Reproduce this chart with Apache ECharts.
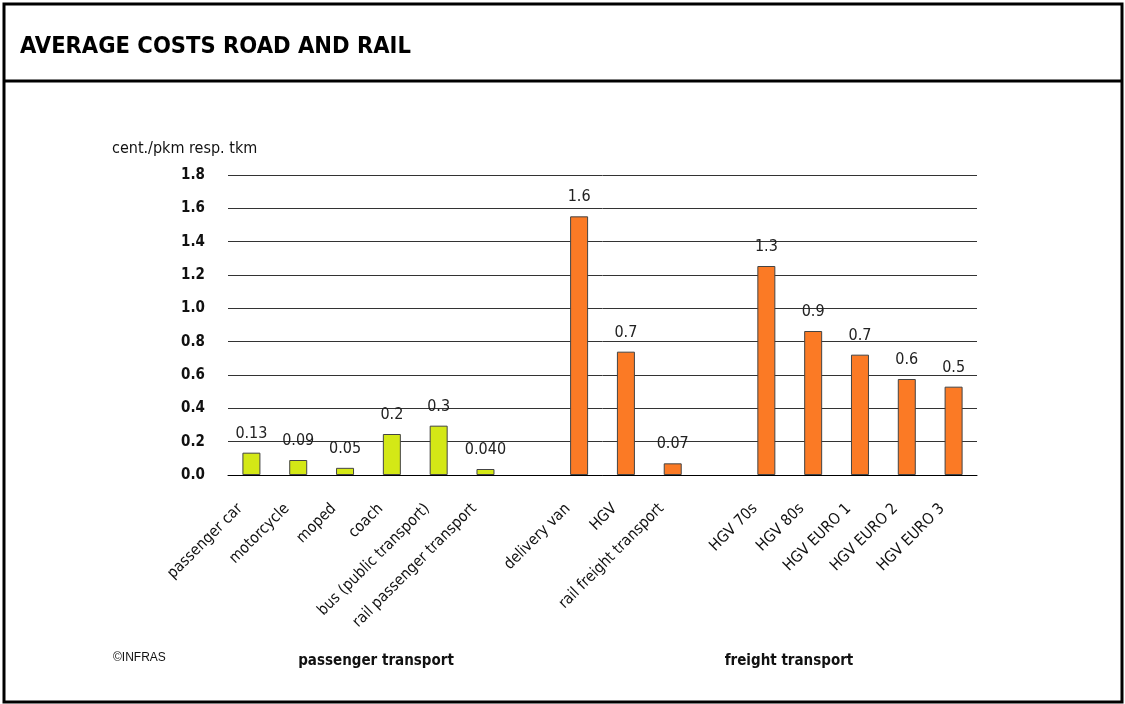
<!DOCTYPE html>
<html>
<head>
<meta charset="utf-8">
<script src="https://cdn.jsdelivr.net/npm/echarts@6/dist/echarts.min.js"></script>
<style>
html,body{margin:0;padding:0;background:#fff;}
#c{width:1125px;height:704px;}
</style>
</head>
<body>
<div id="c"></div>
<script>
const categories = ['passenger car','motorcycle','moped','coach','bus (public transport)','rail passenger transport','',
  'delivery van','HGV','rail freight transport','',
  'HGV 70s','HGV 80s','HGV EURO 1','HGV EURO 2','HGV EURO 3'];
const passengerValues = [0.134, 0.09, 0.043, 0.246, 0.296, 0.036];
const freightValues = [1.552, 0.74, 0.07];
const hgvValues = [1.254, 0.864, 0.722, 0.576, 0.53];
const passengerLabels = ['0.13','0.09','0.05','0.2','0.3','0.040'];
const freightLabels = ['1.6','0.7','0.07'];
const hgvLabels = ['1.3','0.9','0.7','0.6','0.5'];
const yTicks = [0, 0.2, 0.4, 0.6, 0.8, 1.0, 1.2, 1.4, 1.6, 1.8];

const FONT = "'DejaVu Sans Condensed','Liberation Sans Narrow','DejaVu Sans',sans-serif";
const GREEN = '#d4e816';
const ORANGE = '#fb7a25';

const data = [];
const labels = [];
passengerValues.forEach((v,i)=>{data.push({value:v,itemStyle:{color:GREEN}});labels.push(passengerLabels[i]);});
data.push('-'); labels.push('');
freightValues.forEach((v,i)=>{data.push({value:v,itemStyle:{color:ORANGE}});labels.push(freightLabels[i]);});
data.push('-'); labels.push('');
hgvValues.forEach((v,i)=>{data.push({value:v,itemStyle:{color:ORANGE}});labels.push(hgvLabels[i]);});

const chart = echarts.init(document.getElementById('c'), null, {renderer:'canvas'});
chart.setOption({
  animation:false,
  backgroundColor:'#fff',
  grid:{left:228,right:148,top:175,bottom:229,containLabel:false},
  xAxis:{
    type:'category',
    data:categories,
    axisLine:{show:true,lineStyle:{color:'#000',width:1}},
    axisTick:{show:false},
    axisLabel:{rotate:45,margin:20,padding:[0,16,0,0],fontFamily:FONT,fontSize:15.5,color:'#111',interval:0}
  },
  yAxis:{
    type:'value',
    min:yTicks[0],max:yTicks[yTicks.length-1],interval:0.2,
    axisLine:{show:false},
    axisTick:{show:false},
    axisLabel:{margin:23,fontFamily:FONT,fontSize:15,fontWeight:'bold',color:'#111',
      formatter:v=>v.toFixed(1)},
    splitLine:{lineStyle:{color:'#333',width:1}}
  },
  series:[{
    type:'bar',
    data:data,
    barWidth:18,
    itemStyle:{borderColor:'#444',borderWidth:1},
    label:{show:true,position:'top',distance:11,fontFamily:FONT,fontSize:16,color:'#222',
      formatter:p=>labels[p.dataIndex]}
  }],
  graphic:[
    {type:'rect',shape:{x:4,y:4,width:1118,height:698},style:{fill:'none',stroke:'#000',lineWidth:3},z:10},
    {type:'line',shape:{x1:4,y1:81,x2:1122,y2:81},style:{stroke:'#000',lineWidth:3},z:10},
    {type:'text',left:20,top:35,style:{text:'AVERAGE COSTS ROAD AND RAIL',font:"bold 23.5px "+FONT,fill:'#000'}},
    {type:'text',left:112,top:141,style:{text:'cent./pkm resp. tkm',font:"16px "+FONT,fill:'#111'}},
    {type:'text',left:113,top:652,style:{text:'©INFRAS',font:"12px 'Liberation Sans',Arial,sans-serif",fill:'#111'}},
    {type:'text',x:376,y:661,style:{text:'passenger transport',font:"bold 15px "+FONT,fill:'#111',align:'center',verticalAlign:'middle'}},
    {type:'text',x:789,y:661,style:{text:'freight transport',font:"bold 15px "+FONT,fill:'#111',align:'center',verticalAlign:'middle'}}
  ]
});
</script>
</body>
</html>
